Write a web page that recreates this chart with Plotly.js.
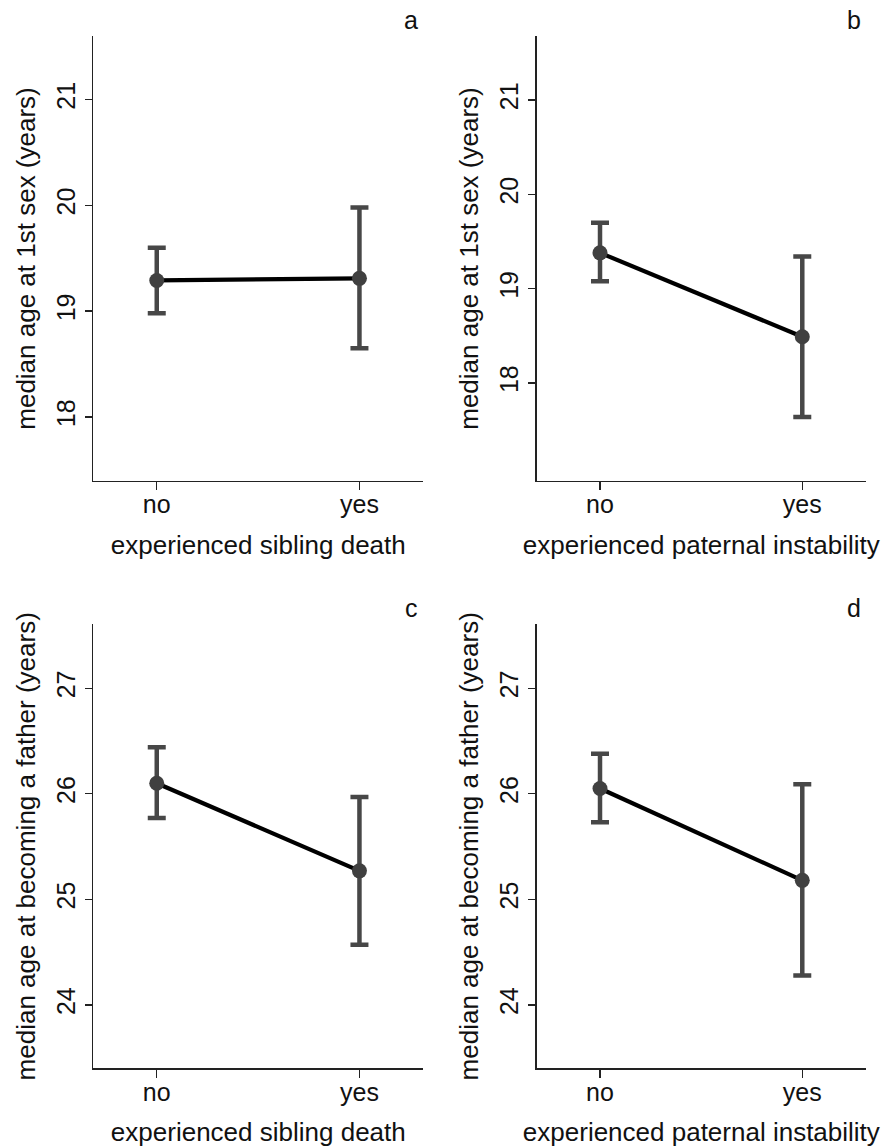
<!DOCTYPE html>
<html>
<head>
<meta charset="utf-8">
<script src="https://cdn.plot.ly/plotly-3.0.1.min.js"></script>
<style>html,body{margin:0;padding:0;background:#fff;}#chart{width:883px;height:1147px;}</style>
</head>
<body>
<div id="chart"></div>
<script>
// ---- data ----
var categories = ['no', 'yes'];
var panelLabels = ['a', 'b', 'c', 'd'];
var xTitles = ['experienced sibling death', 'experienced paternal instability',
               'experienced sibling death', 'experienced paternal instability'];
var yTitles = ['median age at 1st sex (years)', 'median age at 1st sex (years)',
               'median age at becoming a father (years)', 'median age at becoming a father (years)'];
var medianA = [19.29, 19.31];
var lowerA  = [18.98, 18.65];
var upperA  = [19.60, 19.98];
var medianB = [19.38, 18.49];
var lowerB  = [19.08, 17.64];
var upperB  = [19.70, 19.34];
var medianC = [26.10, 25.27];
var lowerC  = [25.77, 24.57];
var upperC  = [26.44, 25.97];
var medianD = [26.05, 25.18];
var lowerD  = [25.73, 24.28];
var upperD  = [26.38, 26.09];
var yTicksTop = [18, 19, 20, 21];
var yTicksBottom = [24, 25, 26, 27];

var panels = [
  {med: medianA, lo: lowerA, hi: upperA, range: [17.395, 21.60], ticks: yTicksTop},
  {med: medianB, lo: lowerB, hi: upperB, range: [16.96, 21.68], ticks: yTicksTop},
  {med: medianC, lo: lowerC, hi: upperC, range: [23.40, 27.605], ticks: yTicksBottom},
  {med: medianD, lo: lowerD, hi: upperD, range: [23.40, 27.605], ticks: yTicksBottom}
];

var W = 883, H = 1147;
var xDomPx = [[93.3, 423.3], [536.7, 866], [93.3, 423.3], [536.7, 866]];
var yDomPx = [[36, 481], [36, 481], [624.3, 1068.3], [624.3, 1068.3]];

var FONT = 'Liberation Sans, Arial, Helvetica, sans-serif';
var traces = [];
var layout = {
  width: W, height: H,
  margin: {l: 0, r: 0, t: 0, b: 0},
  paper_bgcolor: '#fff', plot_bgcolor: '#fff',
  showlegend: false,
  font: {family: FONT, color: '#111', size: 25},
  annotations: []
};

panels.forEach(function (p, i) {
  var n = i + 1;
  var xa = 'x' + (n === 1 ? '' : n), ya = 'y' + (n === 1 ? '' : n);
  var plus = p.hi.map(function (v, k) { return v - p.med[k]; });
  var minus = p.lo.map(function (v, k) { return p.med[k] - v; });
  traces.push({
    type: 'scatter', mode: 'markers', x: categories, y: p.med,
    xaxis: xa, yaxis: ya, hoverinfo: 'skip',
    marker: {size: 1, color: 'rgba(0,0,0,0)'},
    error_y: {type: 'data', symmetric: false, array: plus, arrayminus: minus,
              color: '#474747', thickness: 4.5, width: 9}
  });
  traces.push({
    type: 'scatter', mode: 'lines+markers', x: categories, y: p.med,
    xaxis: xa, yaxis: ya,
    line: {color: '#000', width: 4.2},
    marker: {size: 15, color: '#404040'}
  });
  var xk = 'xaxis' + (n === 1 ? '' : n), yk = 'yaxis' + (n === 1 ? '' : n);
  layout[xk] = {
    domain: [xDomPx[i][0] / W, xDomPx[i][1] / W],
    anchor: ya, type: 'category', range: [-0.313, 1.315],
    showline: true, linecolor: '#222', linewidth: 1.3, mirror: false,
    ticks: 'outside', ticklen: 8, tickwidth: 1.3, tickcolor: '#222',
    ticklabelstandoff: -7,
    showgrid: false, zeroline: false,
    tickfont: {size: 25, color: '#111', family: FONT},
    title: {text: xTitles[i], font: {size: 26, color: '#111', family: FONT}, standoff: 18}
  };
  layout[yk] = {
    domain: [1 - yDomPx[i][1] / H, 1 - yDomPx[i][0] / H],
    anchor: xa, range: p.range,
    tickvals: p.ticks, tickangle: -90,
    showline: true, linecolor: '#222', linewidth: 1.3, mirror: false,
    ticks: 'outside', ticklen: 7, tickwidth: 1.3, tickcolor: '#222',
    showgrid: false, zeroline: false,
    tickfont: {size: 25, color: '#111', family: FONT},
    title: {text: yTitles[i], font: {size: 26, color: '#111', family: FONT}, standoff: 9}
  };
  layout.annotations.push({
    text: panelLabels[i], xref: 'paper', yref: 'paper',
    x: (xDomPx[i][1] - 3) / W, y: 1 - (yDomPx[i][0] - 16) / H,
    xanchor: 'right', yanchor: 'middle', showarrow: false,
    font: {size: 25, color: '#111', family: FONT}
  });
});

Plotly.newPlot('chart', traces, layout, {displayModeBar: false, staticPlot: true});
</script>
</body>
</html>
